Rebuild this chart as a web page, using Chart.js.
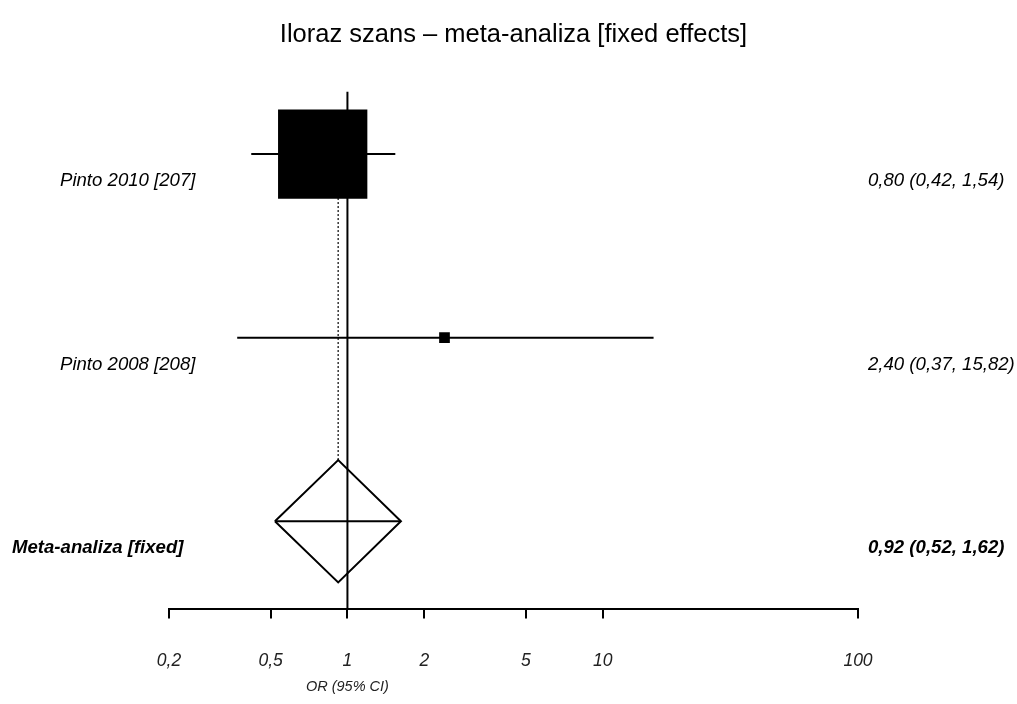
<!DOCTYPE html>
<html>
<head>
<meta charset="utf-8">
<script src="https://cdn.jsdelivr.net/npm/chart.js@4/dist/chart.umd.min.js"></script>
<style>
  html, body { margin: 0; padding: 0; background: #fff; }
  #wrap { width: 1017px; height: 704px; }
</style>
</head>
<body>
<div id="wrap"><canvas id="forest"></canvas></div>
<script>
// Forest plot: iloraz szans, model fixed effects

const STUDIES = ['Pinto 2010 [207]', 'Pinto 2008 [208]'];
const OR = [0.80, 2.40];
const CI_LOW = [0.42, 0.37];
const CI_HIGH = [1.54, 15.82];
const WEIGHTS = [89.3, 10.7];   // wagi (%) fixed effects

const POOLED_LABEL = 'Meta-analiza [fixed]';
const POOLED_OR = 0.92;
const POOLED_LOW = 0.52;
const POOLED_HIGH = 1.62;

const X_TICKS = [0.2, 0.5, 1, 2, 5, 10, 100];

const FONT = '"Liberation Sans", Arial, sans-serif';
const Y_MIN = -0.34;
const Y_MAX = 2.475;
const DIAMOND_HALF = 0.333;     // polowa wysokosci rombu (w jednostkach wiersza)
const BOX_PX_PER_WEIGHT = 1.0;  // bok kwadratu [px] na 1% wagi
const LABEL_DY = 27;            // etykieta wiersza ponizej znacznika

const fmt = v => v.toFixed(2).replace('.', ',');
const pooledRow = STUDIES.length;

const datasets = [];

// kwadraty (estymaty punktowe)
datasets.push({
    data: OR.map((v, i) => ({ x: v, y: i })),
    pointStyle: 'rect',
    pointRadius: WEIGHTS.map(w => w * BOX_PX_PER_WEIGHT / Math.SQRT2),
    pointHoverRadius: WEIGHTS.map(w => w * BOX_PX_PER_WEIGHT / Math.SQRT2),
    pointBackgroundColor: '#000',
    pointBorderWidth: 0,
    showLine: false,
});

// przedzialy ufnosci
STUDIES.forEach((s, i) => {
    datasets.push({
        data: [{ x: CI_LOW[i], y: i }, { x: CI_HIGH[i], y: i }],
        showLine: true, borderColor: '#000', borderWidth: 2, pointRadius: 0,
    });
});

// romb meta-analizy
datasets.push({
    data: [
        { x: POOLED_LOW, y: pooledRow },
        { x: POOLED_OR, y: pooledRow - DIAMOND_HALF },
        { x: POOLED_HIGH, y: pooledRow },
        { x: POOLED_OR, y: pooledRow + DIAMOND_HALF },
        { x: POOLED_LOW, y: pooledRow },
    ],
    showLine: true, borderColor: '#000', borderWidth: 2, pointRadius: 0, tension: 0,
});
datasets.push({
    data: [{ x: POOLED_LOW, y: pooledRow }, { x: POOLED_HIGH, y: pooledRow }],
    showLine: true, borderColor: '#000', borderWidth: 2, pointRadius: 0,
});

// linia estymaty zbiorczej (kropkowana)
datasets.push({
    data: [{ x: POOLED_OR, y: 0 }, { x: POOLED_OR, y: pooledRow - DIAMOND_HALF }],
    showLine: true, borderColor: '#333', borderWidth: 1.5, borderDash: [2, 2], pointRadius: 0,
});

// linia braku efektu OR = 1
datasets.push({
    data: [{ x: 1, y: Y_MIN }, { x: 1, y: Y_MAX }],
    showLine: true, borderColor: '#000', borderWidth: 2, pointRadius: 0,
});

// etykiety wierszy po lewej i po prawej
const rowLabels = {
    id: 'rowLabels',
    afterDraw(chart) {
        const ctx = chart.ctx;
        const ys = chart.scales.y;
        const xs = chart.scales.x;
        ctx.save();
        ctx.fillStyle = '#000';
        ctx.textBaseline = 'middle';
        ctx.textAlign = 'left';
        STUDIES.forEach((s, i) => {
            const y = ys.getPixelForValue(i) + LABEL_DY;
            ctx.font = 'italic 18.6px ' + FONT;
            ctx.fillText(s, 60, y);
            ctx.fillText(`${fmt(OR[i])} (${fmt(CI_LOW[i])}, ${fmt(CI_HIGH[i])})`, 868, y);
        });
        const yp = ys.getPixelForValue(pooledRow) + LABEL_DY;
        ctx.font = 'italic bold 18.6px ' + FONT;
        ctx.fillText(POOLED_LABEL, 12, yp);
        ctx.fillText(`${fmt(POOLED_OR)} (${fmt(POOLED_LOW)}, ${fmt(POOLED_HIGH)})`, 868, yp);

        // tytul osi
        ctx.font = 'italic 14.5px ' + FONT;
        ctx.fillStyle = '#222';
        ctx.textAlign = 'center';
        ctx.fillText('OR (95% CI)', xs.getPixelForValue(1), 687);
        ctx.restore();
    }
};

new Chart(document.getElementById('forest'), {
    type: 'scatter',
    data: { datasets },
    options: {
        responsive: true,
        maintainAspectRatio: false,
        animation: false,
        layout: { padding: { left: 169, right: 159, top: 0, bottom: 0 } },
        plugins: {
            legend: { display: false },
            tooltip: { enabled: false },
            title: {
                display: true,
                text: 'Iloraz szans \u2013 meta-analiza [fixed effects]',
                color: '#000',
                font: { family: FONT, size: 25.5, weight: 'normal' },
                padding: { top: 20, bottom: 41 },
            },
        },
        scales: {
            x: {
                type: 'logarithmic',
                min: 0.2,
                max: 100,
                afterBuildTicks: scale => { scale.ticks = X_TICKS.map(v => ({ value: v })); },
                ticks: {
                    autoSkip: false,
                    maxRotation: 0,
                    padding: 34,
                    color: '#222',
                    font: { family: FONT, size: 17.5, style: 'italic', lineHeight: 1 },
                    callback: v => String(v).replace('.', ','),
                },
                grid: { drawOnChartArea: false, drawTicks: true, tickLength: 10, color: '#000', lineWidth: 2 },
                border: { display: true, color: '#000', width: 2 },
            },
            y: {
                type: 'linear',
                reverse: true,
                min: Y_MIN,
                max: Y_MAX,
                display: false,
            },
        },
    },
    plugins: [rowLabels],
});
</script>
</body>
</html>
